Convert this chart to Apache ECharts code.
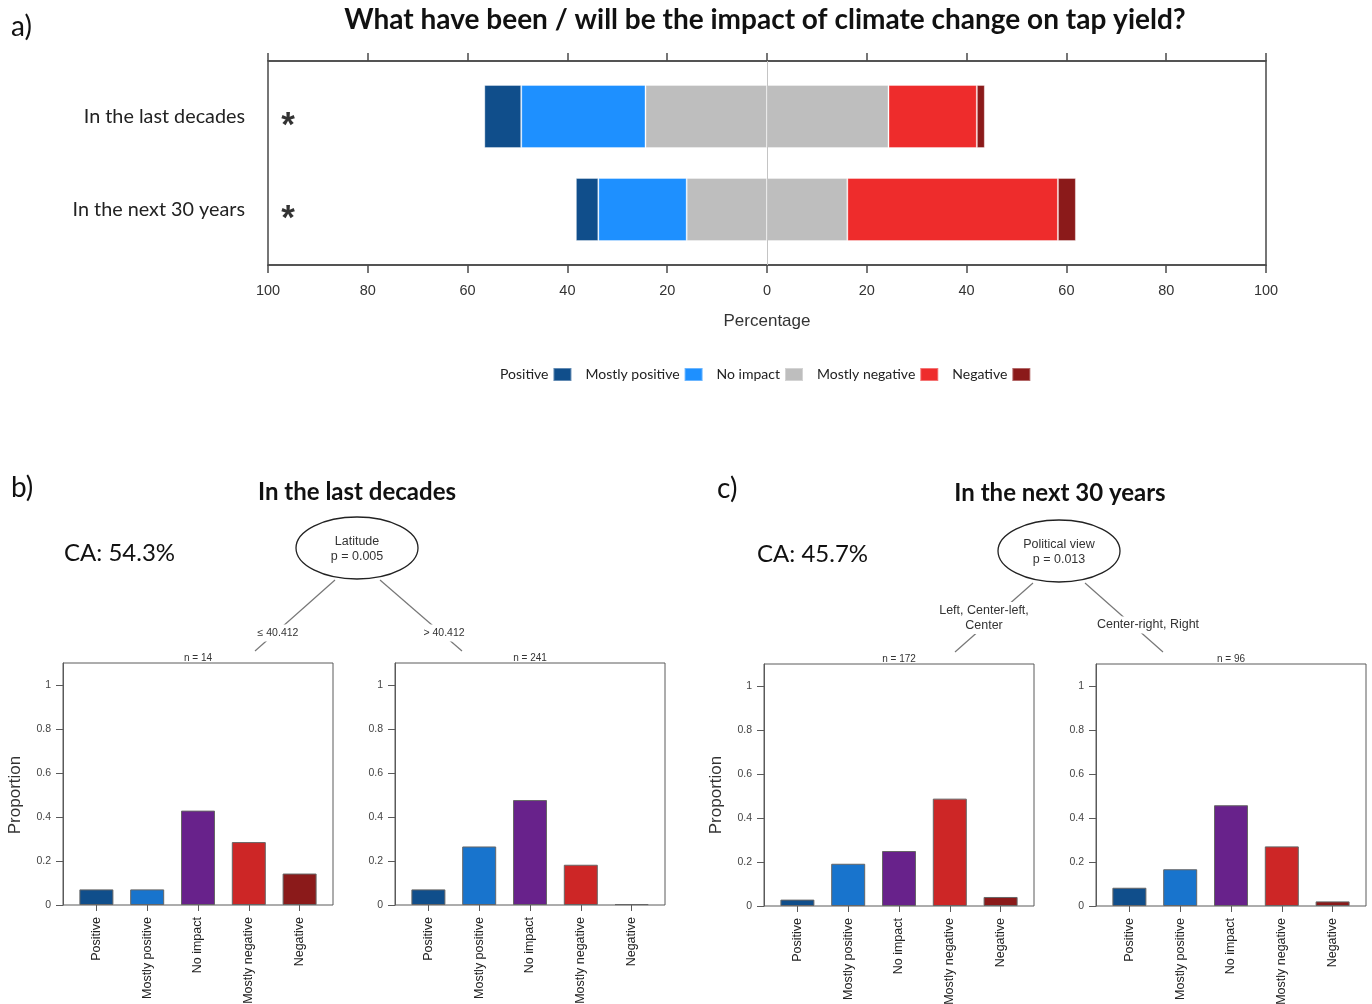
<!DOCTYPE html>
<html>
<head>
<meta charset="utf-8">
<script src="https://cdn.jsdelivr.net/npm/echarts/dist/echarts.min.js"></script>
<style>
  html, body { margin: 0; padding: 0; background: #fff; }
  #chart { width: 1372px; height: 1004px; }
</style>
</head>
<body>
<div id="chart"></div>
<script>
// ---- Data -----------------------------------------------------------------
const levels = ['Positive', 'Mostly positive', 'No impact', 'Mostly negative', 'Negative'];
const periods = ['In the last decades', 'In the next 30 years'];

// Panel a: share of answers (%) for each period
const pctPositive       = [7.4, 4.5];
const pctMostlyPositive = [24.9, 17.7];
const pctNoImpact       = [48.7, 32.2];
const pctMostlyNegative = [17.7, 42.2];
const pctNegative       = [1.6, 3.6];
const significance      = ['*', '*'];

// Panels b and c: terminal nodes of the conditional inference trees
const propLatLow     = [0.071, 0.071, 0.429, 0.286, 0.143]; // Latitude <= 40.412
const propLatHigh    = [0.071, 0.266, 0.477, 0.183, 0.004]; // Latitude > 40.412
const propPolLeft    = [0.029, 0.192, 0.250, 0.488, 0.041]; // Left, Center-left, Center
const propPolRight   = [0.083, 0.167, 0.458, 0.271, 0.021]; // Center-right, Right
const nodeSizes      = [14, 241, 172, 96];
const proportionTicks = [0, 0.2, 0.4, 0.6, 0.8, 1];

const splitVars   = ['Latitude', 'Political view'];
const splitPs     = ['p = 0.005', 'p = 0.013'];
const splitLabels = [['\u2264 40.412', '> 40.412'], ['Left, Center-left,\nCenter', 'Center-right, Right']];
const accuracies  = ['CA: 54.3%', 'CA: 45.7%'];
const treeTitles  = ['In the last decades', 'In the next 30 years'];

// ---- Styles ---------------------------------------------------------------
const likertColors = ['#104E8B', '#1E90FF', '#BEBEBE', '#EE2C2C', '#8B1A1A'];
const nodeColors   = ['#104E8B', '#1874CD', '#68228B', '#CD2626', '#8B1A1A'];
const SANS = '"Liberation Sans", Arial, sans-serif';
const HUMANIST = 'Lato, "Open Sans", sans-serif';

const chart = echarts.init(document.getElementById('chart'), null, { renderer: 'canvas' });

// ---- Panel a: diverging stacked bars --------------------------------------
function likert(name, values, sign, color) {
  return {
    name, type: 'bar', stack: 'impact', xAxisIndex: 2, yAxisIndex: 1,
    barWidth: 63, silent: true,
    data: values.map(v => sign * v),
    itemStyle: { color, borderColor: 'rgba(255,255,255,0.35)', borderWidth: 1 }
  };
}
const halfNoImpact = pctNoImpact.map(v => v / 2);

const grids = [
  { left: 268, width: 998, top: 61, height: 204, show: true, borderColor: '#4a4a4a', borderWidth: 1.5,
    backgroundColor: 'transparent', outerBoundsMode: 'none' },
  { left: 268, width: 998, top: 70, height: 186, outerBoundsMode: 'none' }
];
const xAxes = [
  { gridIndex: 0, type: 'value', min: -100, max: 100, interval: 20, position: 'bottom',
    axisLine: { show: true, lineStyle: { color: '#4a4a4a', width: 1.5 } },
    axisTick: { show: true, length: 8, lineStyle: { color: '#4a4a4a', width: 1.5 } },
    axisLabel: { formatter: v => String(Math.abs(v)), fontSize: 14.5, color: '#333', margin: 18, fontFamily: SANS },
    splitLine: { show: false },
    name: 'Percentage', nameLocation: 'middle', nameGap: 48,
    nameTextStyle: { fontSize: 17, color: '#333', fontFamily: SANS } },
  { gridIndex: 0, type: 'value', min: -100, max: 100, interval: 20, position: 'top',
    axisLine: { show: true, lineStyle: { color: '#4a4a4a', width: 1.5 } },
    axisTick: { show: true, length: 8, lineStyle: { color: '#4a4a4a', width: 1.5 } },
    axisLabel: { show: false }, splitLine: { show: false } },
  { gridIndex: 1, type: 'value', min: -100, max: 100, show: false, splitLine: { show: false } }
];
const yAxes = [
  { gridIndex: 0, type: 'value', min: 0, max: 1, show: false, splitLine: { show: false } },
  { gridIndex: 1, type: 'category', inverse: true, data: periods,
    axisLine: { show: false }, axisTick: { show: false },
    axisLabel: { fontSize: 19.8, color: '#222', margin: 23, fontFamily: HUMANIST } }
];
const series = [
  // reference line at 0 spanning the whole frame
  { type: 'line', xAxisIndex: 0, yAxisIndex: 0, data: [], silent: true, z: 1,
    markLine: { silent: true, symbol: 'none', label: { show: false },
      lineStyle: { color: '#c4c4c4', width: 1, type: 'solid' }, data: [{ xAxis: 0 }] } },
  likert('No impact', halfNoImpact, -1, likertColors[2]),
  likert('Mostly positive', pctMostlyPositive, -1, likertColors[1]),
  likert('Positive', pctPositive, -1, likertColors[0]),
  likert('No impact', halfNoImpact, 1, likertColors[2]),
  likert('Mostly negative', pctMostlyNegative, 1, likertColors[3]),
  likert('Negative', pctNegative, 1, likertColors[4]),
  // significance markers
  { type: 'scatter', xAxisIndex: 2, yAxisIndex: 1, silent: true, z: 5,
    symbolSize: 1, itemStyle: { color: 'transparent' },
    data: periods.map((p, i) => ({ value: [-96, p], mark: significance[i] })),
    label: { show: true, position: 'inside', formatter: p => p.data.mark,
      fontSize: 35, fontWeight: 'bold', color: '#000', offset: [0, 10], fontFamily: SANS } }
];

// ---- Panels b and c: terminal node bar plots -------------------------------
const nodePanels = [
  { left: 63,   top: 663, values: propLatLow,   n: nodeSizes[0] },
  { left: 395,  top: 663, values: propLatHigh,  n: nodeSizes[1] },
  { left: 764,  top: 664, values: propPolLeft,  n: nodeSizes[2] },
  { left: 1096, top: 664, values: propPolRight, n: nodeSizes[3] }
];
const boxW = 270, boxH = 242, inset = 8;

nodePanels.forEach(p => {
  const gFrame = grids.length, gBars = grids.length + 1;
  grids.push({ left: p.left, top: p.top, width: boxW, height: boxH, show: true,
    borderColor: '#5a5a5a', borderWidth: 1, backgroundColor: 'transparent', outerBoundsMode: 'none' });
  grids.push({ left: p.left + inset, top: p.top, width: boxW - 2 * inset, height: boxH, outerBoundsMode: 'none' });

  xAxes.push({ gridIndex: gFrame, type: 'value', min: 0, max: 1, show: false });
  yAxes.push({ gridIndex: gFrame, type: 'value', min: 0, max: 1.1,
    axisLine: { show: true, lineStyle: { color: '#5a5a5a', width: 1 } },
    axisTick: { show: true, length: 7, customValues: proportionTicks, lineStyle: { color: '#5a5a5a' } },
    axisLabel: { customValues: proportionTicks, fontSize: 10.5, color: '#444', margin: 12, fontFamily: SANS },
    splitLine: { show: false } });

  const xBars = xAxes.length, yBars = yAxes.length;
  xAxes.push({ gridIndex: gBars, type: 'category', data: levels,
    axisLine: { show: false },
    axisTick: { show: true, alignWithLabel: true, length: 6, lineStyle: { color: '#5a5a5a' } },
    axisLabel: { rotate: 90, interval: 0, fontSize: 12.5, color: '#222', margin: 12, fontFamily: SANS } });
  yAxes.push({ gridIndex: gBars, type: 'value', min: 0, max: 1.1, show: false, splitLine: { show: false } });

  series.push({ type: 'bar', xAxisIndex: xBars, yAxisIndex: yBars, barWidth: 34, silent: true,
    data: p.values,
    itemStyle: { color: d => nodeColors[d.dataIndex], borderColor: '#666', borderWidth: 1 } });
});

// ---- Annotations: panel letters, titles and tree structure ---------------
function txt(x, y, text, font, opts = {}) {
  return { type: 'text', x, y, z: opts.z || 10, silent: true, rotation: opts.rotation || 0,
    style: Object.assign({ text, font, fill: opts.fill || '#111',
      textAlign: opts.align || 'center', textVerticalAlign: 'middle' }, opts.style || {}) };
}
function seg(x1, y1, x2, y2) {
  return { type: 'line', z: 5, silent: true, shape: { x1, y1, x2, y2 },
    style: { stroke: '#777', lineWidth: 1.2 } };
}
function ellipse(cx, cy) {
  return { type: 'ellipse', z: 6, silent: true, shape: { cx, cy, rx: 61, ry: 31 },
    style: { fill: '#fff', stroke: '#222', lineWidth: 1.3 } };
}
const labelBox = { backgroundColor: '#fff', padding: [1, 2], lineHeight: 15 };

const graphics = [
  txt(11, 27, 'a)', '28px ' + HUMANIST, { align: 'left' }),
  txt(765, 20, 'What have been / will be the impact of climate change on tap yield?', 'bold 28px ' + HUMANIST),

  // panel b
  txt(11, 488, 'b)', '28px ' + HUMANIST, { align: 'left' }),
  txt(357, 492, treeTitles[0], 'bold 24px ' + HUMANIST),
  txt(64, 553, accuracies[0], '24px ' + HUMANIST, { align: 'left' }),
  seg(335, 580, 255, 651), seg(380, 580, 462, 651),
  ellipse(357, 548),
  txt(357, 542, splitVars[0], '12.5px ' + SANS, { fill: '#333', z: 12 }),
  txt(357, 557, splitPs[0], '12.5px ' + SANS, { fill: '#333', z: 12 }),
  txt(278, 633, splitLabels[0][0], '10.5px ' + SANS, { fill: '#333', style: labelBox }),
  txt(444, 633, splitLabels[0][1], '10.5px ' + SANS, { fill: '#333', style: labelBox }),
  txt(15, 795, 'Proportion', '17px ' + SANS, { fill: '#333', rotation: Math.PI / 2 }),

  // panel c
  txt(717, 489, 'c)', '28px ' + HUMANIST, { align: 'left' }),
  txt(1060, 493, treeTitles[1], 'bold 24px ' + HUMANIST),
  txt(757, 554, accuracies[1], '24px ' + HUMANIST, { align: 'left' }),
  seg(1033, 583, 955, 652), seg(1085, 583, 1163, 652),
  ellipse(1059, 551),
  txt(1059, 545, splitVars[1], '12.5px ' + SANS, { fill: '#333', z: 12 }),
  txt(1059, 560, splitPs[1], '12.5px ' + SANS, { fill: '#333', z: 12 }),
  txt(984, 618, splitLabels[1][0], '12.5px ' + SANS, { fill: '#333', style: labelBox }),
  txt(1148, 625, splitLabels[1][1], '12.5px ' + SANS, { fill: '#333', style: labelBox }),
  txt(716, 795, 'Proportion', '17px ' + SANS, { fill: '#333', rotation: Math.PI / 2 })
];
nodePanels.forEach(p => {
  graphics.push(txt(p.left + boxW / 2, p.top - 5, 'n = ' + p.n, '10px ' + SANS, { fill: '#333' }));
});

chart.setOption({
  animation: false,
  backgroundColor: '#fff',
  legend: {
    data: levels, left: 495, top: 362, align: 'right', icon: 'rect',
    itemWidth: 18, itemHeight: 13, itemGap: 13, selectedMode: false,
    textStyle: { fontSize: 14, color: '#222', fontFamily: HUMANIST }
  },
  grid: grids,
  xAxis: xAxes,
  yAxis: yAxes,
  series,
  graphic: { elements: graphics }
});
</script>
</body>
</html>
